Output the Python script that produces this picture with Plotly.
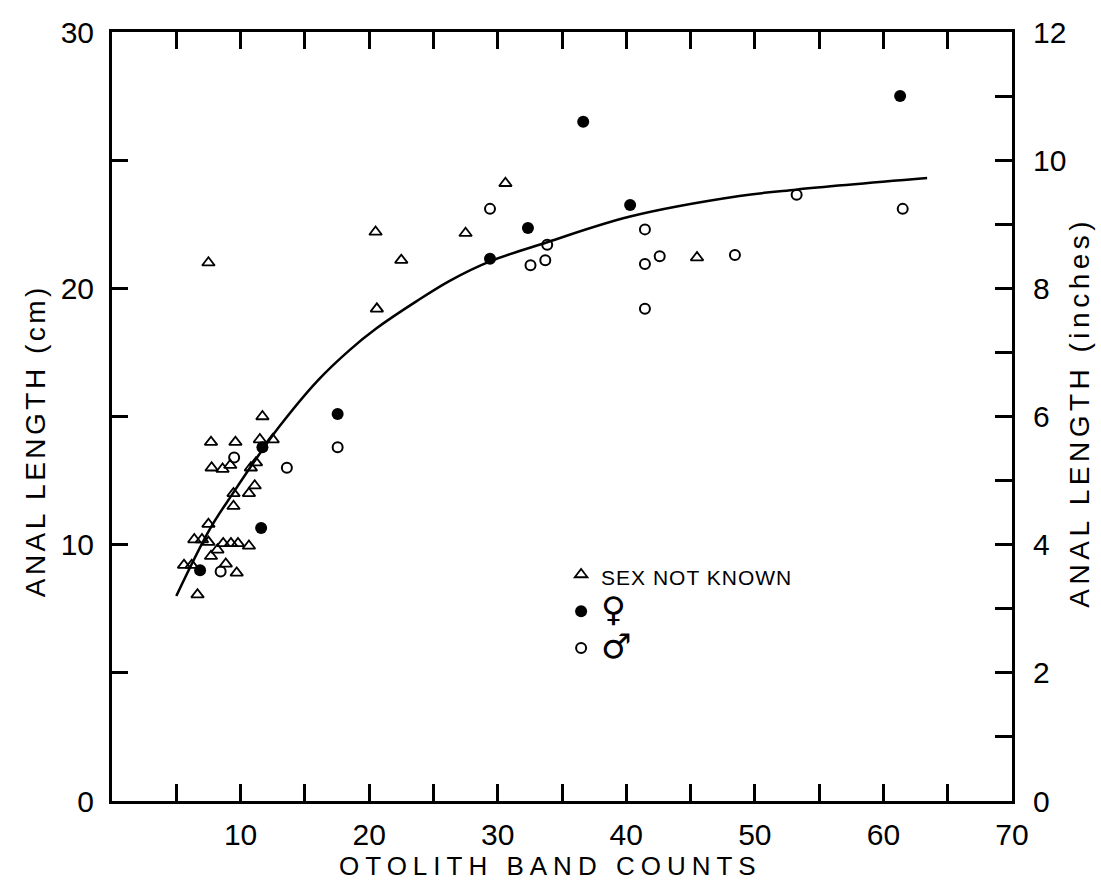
import plotly.graph_objects as go

# ---- data ----
unk_x = [7.5, 11.7, 7.7, 9.6, 11.5, 12.5, 7.75, 8.6, 9.2, 11.2, 10.8, 11.1, 10.65, 9.45, 9.45,
         7.5, 6.4, 7.0, 7.5, 8.65, 9.25, 9.8, 10.65, 8.2, 7.7, 5.6, 6.2, 8.85, 9.7, 6.65,
         20.5, 22.5, 20.6, 27.5, 30.6, 45.5]
unk_y = [21.0, 15.0, 14.0, 14.0, 14.1, 14.1, 13.0, 12.95, 13.1, 13.2, 13.0, 12.3, 12.0, 12.0, 11.5,
         10.8, 10.2, 10.2, 10.1, 10.05, 10.05, 10.05, 9.95, 9.8, 9.55, 9.2, 9.2, 9.25, 8.9, 8.05,
         22.2, 21.1, 19.2, 22.15, 24.1, 21.2]

fem_x = [6.85, 11.6, 11.7, 17.55, 29.4, 32.35, 36.65, 40.3, 61.3]
fem_y = [9.0, 10.65, 13.8, 15.1, 21.15, 22.35, 26.5, 23.25, 27.5]

male_x = [8.45, 9.5, 13.6, 17.55, 29.4, 32.55, 33.7, 33.85, 41.45, 41.45, 41.45, 42.6, 48.45, 53.25, 61.5]
male_y = [8.95, 13.4, 13.0, 13.8, 23.1, 20.9, 21.1, 21.7, 22.3, 20.95, 19.2, 21.25, 21.3, 23.65, 23.1]

curve_x = [5.0, 7.6, 9.4, 11.7, 13.0, 16.0, 18.5, 20.6, 23.7, 26.3, 29.4, 33.85, 40.3, 48.8, 53.2, 63.4]
curve_y = [8.0, 10.6, 12.0, 13.7, 14.6, 16.4, 17.6, 18.45, 19.5, 20.3, 21.05, 21.8, 22.8, 23.6, 23.85, 24.3]

x_ticks = [0, 5, 10, 15, 20, 25, 30, 35, 40, 45, 50, 55, 60, 65, 70]
x_labels = ["", "", "10", "", "20", "", "30", "", "40", "", "50", "", "60", "", "70"]
cm_ticks = [0, 5, 10, 15, 20, 25, 30]
cm_labels = ["0", "", "10", "", "20", "", "30"]
in_ticks = list(range(0, 13))
in_labels = [str(v) if v % 2 == 0 else "" for v in in_ticks]

FONT = "Liberation Sans"
BLACK = "#000000"


def spaced(text, px):
    return "<span style='letter-spacing:%spx'>%s</span>" % (px, text)


SYM = "<span style='font-family:DejaVu Sans;font-size:34px'>%s</span>"

fig = go.Figure()

fig.add_trace(go.Scatter(x=curve_x, y=curve_y, mode="lines",
                         line=dict(color=BLACK, width=2.5, shape="spline", smoothing=1.0),
                         showlegend=False, hoverinfo="skip"))
fig.add_trace(go.Scatter(x=unk_x, y=unk_y, mode="markers",
                         name="<span style='font-size:21px;letter-spacing:1px'>SEX NOT KNOWN</span>",
                         marker=dict(symbol="triangle-up-open", size=11, color=BLACK,
                                     line=dict(width=1.8, color=BLACK))))
fig.add_trace(go.Scatter(x=fem_x, y=fem_y, mode="markers", name=SYM % "♀",
                         marker=dict(symbol="circle", size=12, color=BLACK)))
fig.add_trace(go.Scatter(x=male_x, y=male_y, mode="markers", name=SYM % "♂",
                         marker=dict(symbol="circle-open", size=10, color=BLACK,
                                     line=dict(width=2, color=BLACK))))
# invisible trace to carry the right (inches) axis
fig.add_trace(go.Scatter(x=[None], y=[None], yaxis="y2", showlegend=False, hoverinfo="skip"))

fig.update_layout(
    width=1101, height=884,
    margin=dict(l=112, r=89, t=32, b=83),
    plot_bgcolor="white", paper_bgcolor="white",
    font=dict(family=FONT, color=BLACK, size=26),
    xaxis=dict(range=[0, 70], tickmode="array", tickvals=x_ticks, ticktext=x_labels,
               ticks="inside", ticklen=17, tickwidth=2.5, tickcolor=BLACK,
               showline=True, linewidth=3, linecolor=BLACK, mirror="ticks",
               showgrid=False, zeroline=False, ticklabelstandoff=5, automargin=False,
               tickfont=dict(size=30)),
    yaxis=dict(range=[0, 30], tickmode="array", tickvals=cm_ticks, ticktext=cm_labels,
               ticks="inside", ticklen=16, tickwidth=2.5, tickcolor=BLACK,
               showline=True, linewidth=3, linecolor=BLACK,
               showgrid=False, zeroline=False, ticklabelstandoff=9, automargin=False,
               tickfont=dict(size=30)),
    yaxis2=dict(range=[0, 12], overlaying="y", side="right", tickmode="array",
                tickvals=in_ticks, ticktext=in_labels,
                ticks="inside", ticklen=17, tickwidth=2.5, tickcolor=BLACK,
                showline=True, linewidth=3, linecolor=BLACK,
                showgrid=False, zeroline=False, ticklabelstandoff=12, automargin=False,
                tickfont=dict(size=30)),
    legend=dict(x=0.499, y=0.325, xanchor="left", yanchor="top", bgcolor="rgba(0,0,0,0)",
                font=dict(size=26, family=FONT), itemsizing="trace", tracegroupgap=0),
    annotations=[
        dict(text=spaced("OTOLITH BAND COUNTS", 6), xref="paper", yref="paper",
             x=0.487, y=-0.084, xanchor="center", yanchor="middle", showarrow=False,
             font=dict(size=26, family=FONT, color=BLACK)),
        dict(text=spaced("ANAL LENGTH (cm)", 3.5), xref="paper", yref="paper",
             x=-0.0856, y=0.469, xanchor="center", yanchor="middle", showarrow=False,
             textangle=-90, font=dict(size=28, family=FONT, color=BLACK)),
        dict(text=spaced("ANAL LENGTH (inches)", 4.5), xref="paper", yref="paper",
             x=1.0756, y=0.505, xanchor="center", yanchor="middle", showarrow=False,
             textangle=-90, font=dict(size=28, family=FONT, color=BLACK)),
    ],
)

fig.write_html("out.html")
